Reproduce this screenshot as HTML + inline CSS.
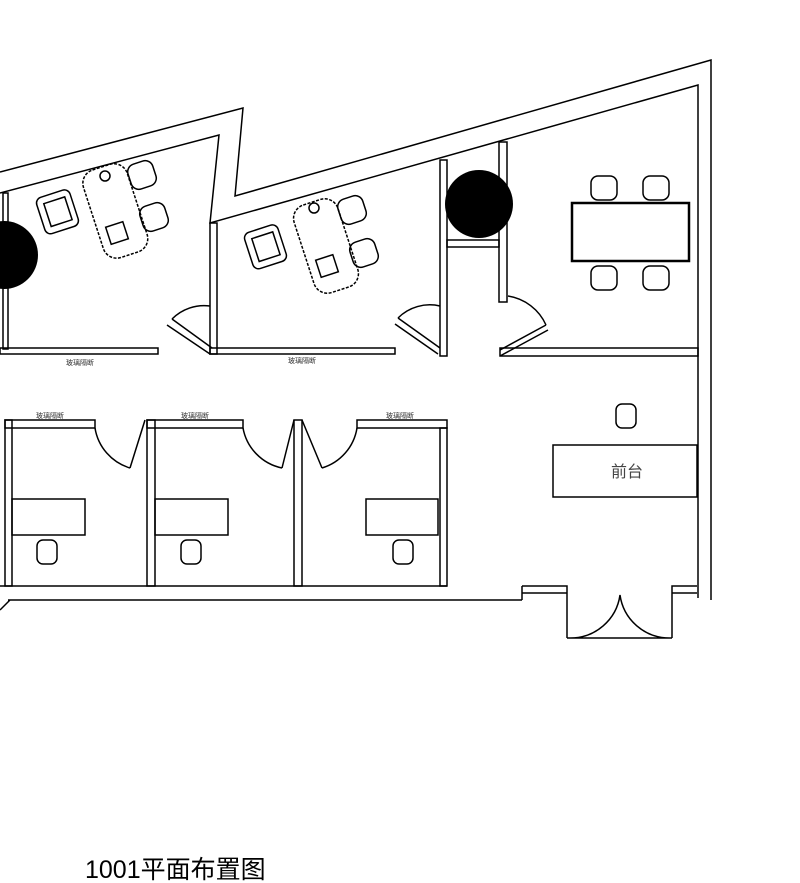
<!DOCTYPE html>
<html><head><meta charset="utf-8"><style>
html,body{margin:0;padding:0;background:#fff;width:800px;height:883px;overflow:hidden}
svg{display:block}
text{font-family:"Liberation Sans","Noto Sans CJK SC",sans-serif}
</style></head><body>
<svg width="800" height="883" viewBox="0 0 800 883" xmlns="http://www.w3.org/2000/svg">
<g fill="none" stroke="#000" stroke-width="1.5">
<polyline points="0,172 243,108 235,196 711,60 711,600" />
<polyline points="0,193 219,135 210,223 698,85 698,598" />
<rect x="3" y="193" width="5" height="156"/>
<rect x="0" y="348" width="158" height="6"/>
<path d="M167,325 L210,354 M172,319 L212,348"/>
<path d="M172,319 A45,45 0 0 1 210,306"/>
<rect x="210" y="223" width="7" height="131"/>
<rect x="210" y="348" width="185" height="6"/>
<path d="M395,324 L438,354 M398,318 L440,348"/>
<path d="M398,318 A45,45 0 0 1 440,306"/>
<rect x="440" y="160" width="7" height="196"/>
<rect x="499" y="142" width="8" height="160"/>
<rect x="447" y="240" width="52" height="7"/>
<path d="M500,356 L548,330 M500,350 L546,325"/>
<path d="M508,296 A50,50 0 0 1 546,325"/>
<rect x="500" y="348" width="198" height="8"/>
<rect x="572" y="203" width="117" height="58" stroke-width="2.5"/>
<rect x="591" y="176" width="26" height="24" rx="7"/>
<rect x="643" y="176" width="26" height="24" rx="7"/>
<rect x="591" y="266" width="26" height="24" rx="7"/>
<rect x="643" y="266" width="26" height="24" rx="7"/>
<g transform="rotate(-18 115 210)"><rect x="92" y="165" width="46" height="92" rx="14" stroke-dasharray="3 1.5"/></g>
<g transform="rotate(-18 326 246)"><rect x="303" y="200" width="46" height="92" rx="14" stroke-dasharray="3 1.5"/></g>
<rect x="40" y="193" width="35" height="38" rx="6" transform="rotate(-18 57 212)"/>
<rect x="47" y="200" width="22" height="24" transform="rotate(-18 57 212)"/>
<rect x="248" y="228" width="35" height="38" rx="6" transform="rotate(-18 265 247)"/>
<rect x="255" y="235" width="22" height="24" transform="rotate(-18 265 247)"/>
<rect x="129" y="162" width="26" height="26" rx="8" transform="rotate(-18 142 175)"/>
<rect x="141" y="204" width="26" height="26" rx="8" transform="rotate(-18 154 217)"/>
<rect x="339" y="197" width="26" height="26" rx="8" transform="rotate(-18 352 210)"/>
<rect x="351" y="240" width="26" height="26" rx="8" transform="rotate(-18 364 253)"/>
<circle cx="105" cy="176" r="5"/><circle cx="314" cy="208" r="5"/>
<rect x="108" y="224" width="18" height="18" transform="rotate(-18 117 233)"/>
<rect x="318" y="257" width="18" height="18" transform="rotate(-18 327 266)"/>
<rect x="5" y="420" width="7" height="166"/>
<rect x="5" y="420" width="90" height="8"/>
<path d="M95,428 A50,50 0 0 0 130,468 M130,468 L145,420"/>
<rect x="147" y="420" width="8" height="166"/>
<rect x="147" y="420" width="96" height="8"/>
<path d="M243,428 A50,50 0 0 0 282,468 M282,468 L294,420"/>
<rect x="294" y="420" width="8" height="166"/>
<path d="M302,420 L322,468 M322,468 A50,50 0 0 0 357,428"/>
<rect x="357" y="420" width="90" height="8"/>
<rect x="440" y="428" width="7" height="158"/>
<rect x="12" y="499" width="73" height="36"/>
<rect x="155" y="499" width="73" height="36"/>
<rect x="366" y="499" width="72" height="36"/>
<rect x="37" y="540" width="20" height="24" rx="6"/>
<rect x="181" y="540" width="20" height="24" rx="6"/>
<rect x="393" y="540" width="20" height="24" rx="6"/>
<path d="M0,586 L447,586 M8,600 L522,600 M0,610 L10,600"/>
<path d="M522,586 L567,586 L567,638 M522,586 L522,600 M522,593 L567,593"/>
<path d="M672,638 L672,586 L697,586 M672,593 L697,593"/>
<path d="M570,638 A50,50 0 0 0 620,595 A50,50 0 0 0 670,638 M567,638 L620,638 M620,638 L672,638"/>
<rect x="553" y="445" width="144" height="52"/>
<rect x="616" y="404" width="20" height="24" rx="6"/>
</g>
<circle cx="479" cy="204" r="34" fill="#000"/>
<circle cx="4" cy="255" r="34" fill="#000"/>
<g font-size="7" fill="#333" text-anchor="middle">
<text x="80" y="365">玻璃隔断</text>
<text x="302" y="363">玻璃隔断</text>
<text x="50" y="418">玻璃隔断</text>
<text x="195" y="418">玻璃隔断</text>
<text x="400" y="418">玻璃隔断</text>
</g>
<text x="627" y="477" font-size="16" fill="#444" text-anchor="middle">前台</text>
<text x="85" y="878" font-size="25" fill="#000">1001平面布置图</text>
</svg>
</body></html>
